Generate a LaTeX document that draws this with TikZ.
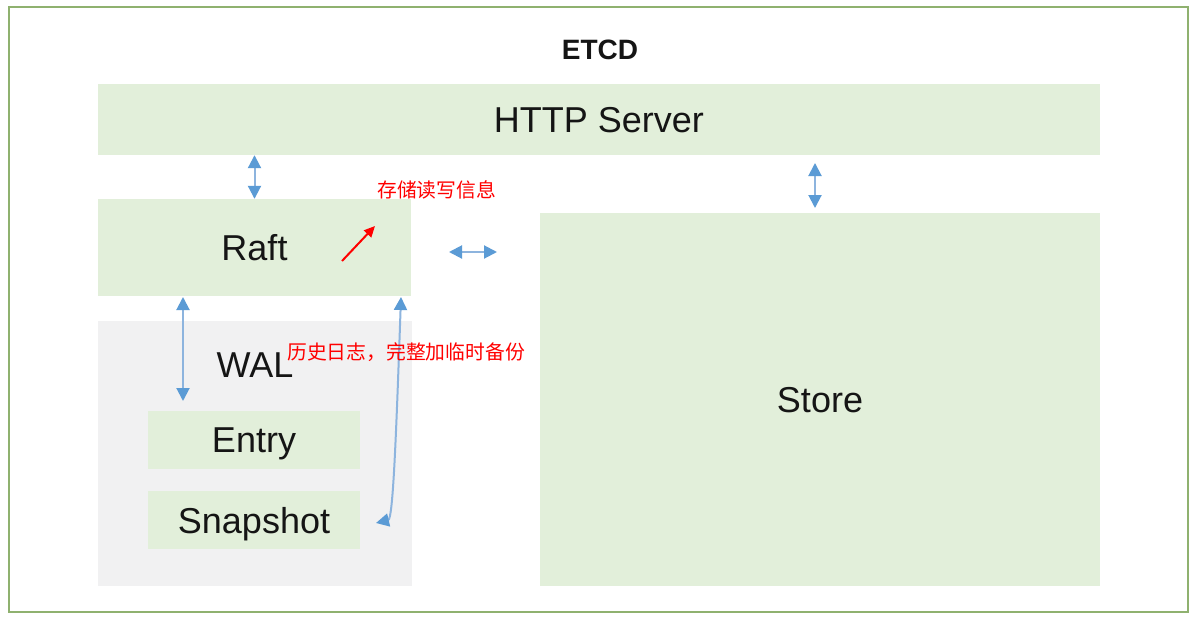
\documentclass[tikz,border=0pt]{standalone}
\usepackage{fontspec}
\setmainfont{Liberation Sans}
\newfontfamily\cjk{Noto Sans CJK SC}
\usetikzlibrary{arrows.meta}
\definecolor{boxgreen}{HTML}{E2EFDA}
\definecolor{walgray}{HTML}{F1F1F2}
\definecolor{framegreen}{HTML}{8FB16F}
\definecolor{arrowblue}{HTML}{5B9BD5}
\definecolor{lineblue}{HTML}{8DB4DE}
\definecolor{txt}{HTML}{151515}
\tikzset{
  box/.style={fill=boxgreen, draw=none, inner sep=0pt, text=txt, text depth=0pt, font=\fontsize{36}{40}\selectfont},
  walbox/.style={fill=walgray, draw=none, inner sep=0pt},
  label/.style={inner sep=0pt, text=txt, text depth=0pt, font=\fontsize{36}{40}\selectfont},
  bluetip/.style={Triangle[length=13pt,width=13pt,fill=arrowblue,color=arrowblue]},
  biarrow/.style={draw=lineblue, line width=2pt, {Triangle[length=13pt,width=13pt,fill=arrowblue,color=arrowblue]}-{Triangle[length=13pt,width=13pt,fill=arrowblue,color=arrowblue]}},
  note/.style={inner sep=0pt, text=red, font=\cjk\fontsize{19.8}{22}\selectfont},
}
\begin{document}
\begin{tikzpicture}[x=1pt,y=-1pt]
\useasboundingbox (0,0) rectangle (1197,624);
\fill[white] (0,0) rectangle (1197,624);
\draw[framegreen, line width=2.5pt] (9,7) rectangle (1188,612);
\node[inner sep=0pt, text=txt, text depth=0pt, font=\bfseries\fontsize{28}{32}\selectfont] (title) at (600,50) {ETCD};
\node[box, minimum width=1002pt, minimum height=71pt] (http) at (599,119.5) {HTTP Server};
\node[box, minimum width=313pt, minimum height=97pt] (raft) at (254.5,247.5) {Raft};
\node[walbox, minimum width=314pt, minimum height=265pt] (walbg) at (255,453.5) {};
\node[label] (wal) at (255,365) {WAL};
\node[box, minimum width=212pt, minimum height=58pt] (entry) at (254,440) {Entry};
\node[box, minimum width=212pt, minimum height=58pt] (snap) at (254,520) {Snapshot};
\node[box, minimum width=560pt, minimum height=373pt] (store) at (820,399.5) {Store};
% connectors
\draw[biarrow] (raft.north |- http.south) -- (raft.north);
\coordinate (s1) at (815,163);
\coordinate (s2) at (815,208);
\draw[biarrow] (s1) -- (s2);
\coordinate (h1) at (449,252);
\coordinate (h2) at (497,252);
\draw[biarrow] (h1) -- (h2);
\coordinate (w1) at (183,297);
\coordinate (w2) at (183,401);
\draw[biarrow] (w1) -- (w2);
\coordinate (c1) at (401,297);
\coordinate (c2) at (376,523);
\draw[biarrow] (c1) .. controls (396,440) and (393,519) .. (c2);
% red notes
\coordinate (r1) at (342,261);
\coordinate (r2) at (375,226);
\draw[red, line width=2pt, -{Triangle[length=11pt,width=10pt]}] (r1) -- (r2);
\node[note, anchor=west] (n1) at (377,190) {存储读写信息};
\node[note, anchor=west] (n2) at (287,352) {历史日志，完整加临时备份};
\end{tikzpicture}
\end{document}
